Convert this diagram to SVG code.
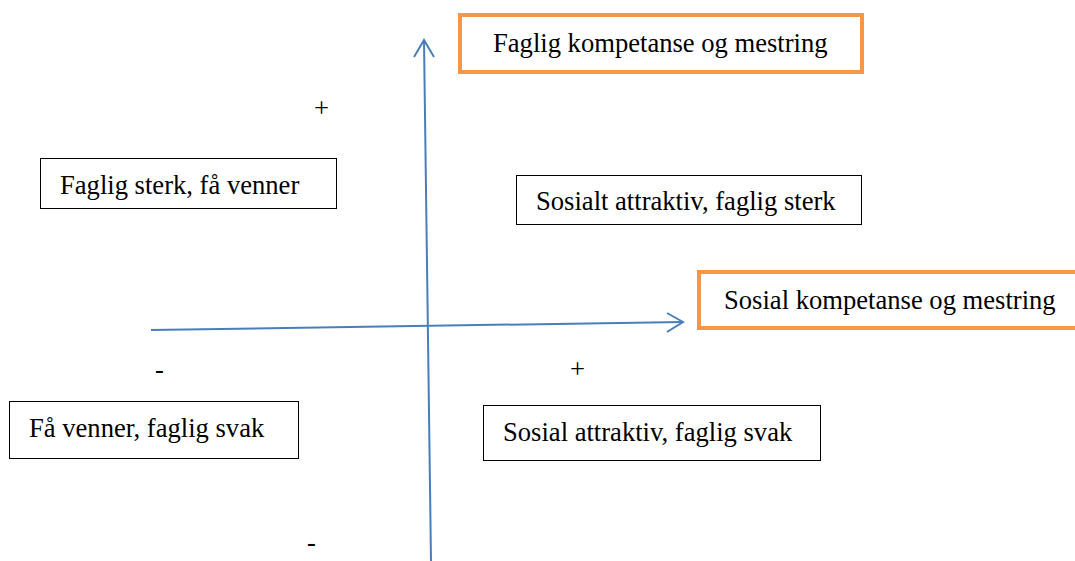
<svg xmlns="http://www.w3.org/2000/svg" width="1075" height="561" viewBox="0 0 1075 561">
<style>
text{font-family:"Liberation Serif","Times New Roman",serif;font-size:26.6px;fill:#000}
.box{fill:#fff;stroke:#000;stroke-width:1}
.obox{fill:#fff;stroke:#F79646;stroke-width:4}
.ax{fill:none;stroke:#4A7EBB;stroke-width:2}
</style>
<rect width="1075" height="561" fill="#fff"/>
<g id="connectors">
<path class="ax" d="M431,561 L424,40"/>
<path class="ax" d="M414,57 L424,40 L434,57"/>
<path class="ax" d="M151,330 L683,322"/>
<path class="ax" d="M667,313 L683,322 L667,332"/>
</g>
<g id="node-faglig"><rect class="obox" x="460" y="15" width="402" height="57"/><text x="493" y="52">Faglig kompetanse og mestring</text></g>
<g id="node-sosial"><rect class="obox" x="699" y="272" width="380" height="56"/><text x="724" y="309">Sosial kompetanse og mestring</text></g>
<g id="node-q1"><rect class="box" x="40.5" y="158.5" width="296" height="50"/><text x="60" y="194">Faglig sterk, få venner</text></g>
<g id="node-q2"><rect class="box" x="516.5" y="175.5" width="345" height="49"/><text x="536" y="210">Sosialt attraktiv, faglig sterk</text></g>
<g id="node-q3"><rect class="box" x="9.5" y="401.5" width="289" height="57"/><text x="29" y="437">Få venner, faglig svak</text></g>
<g id="node-q4"><rect class="box" x="483.5" y="405.5" width="337" height="55"/><text x="503" y="441">Sosial attraktiv, faglig svak</text></g>
<g id="signs">
<text x="314" y="117">+</text>
<text x="155" y="378">-</text>
<text x="570" y="378">+</text>
<text x="307" y="551">-</text>
</g>
</svg>
